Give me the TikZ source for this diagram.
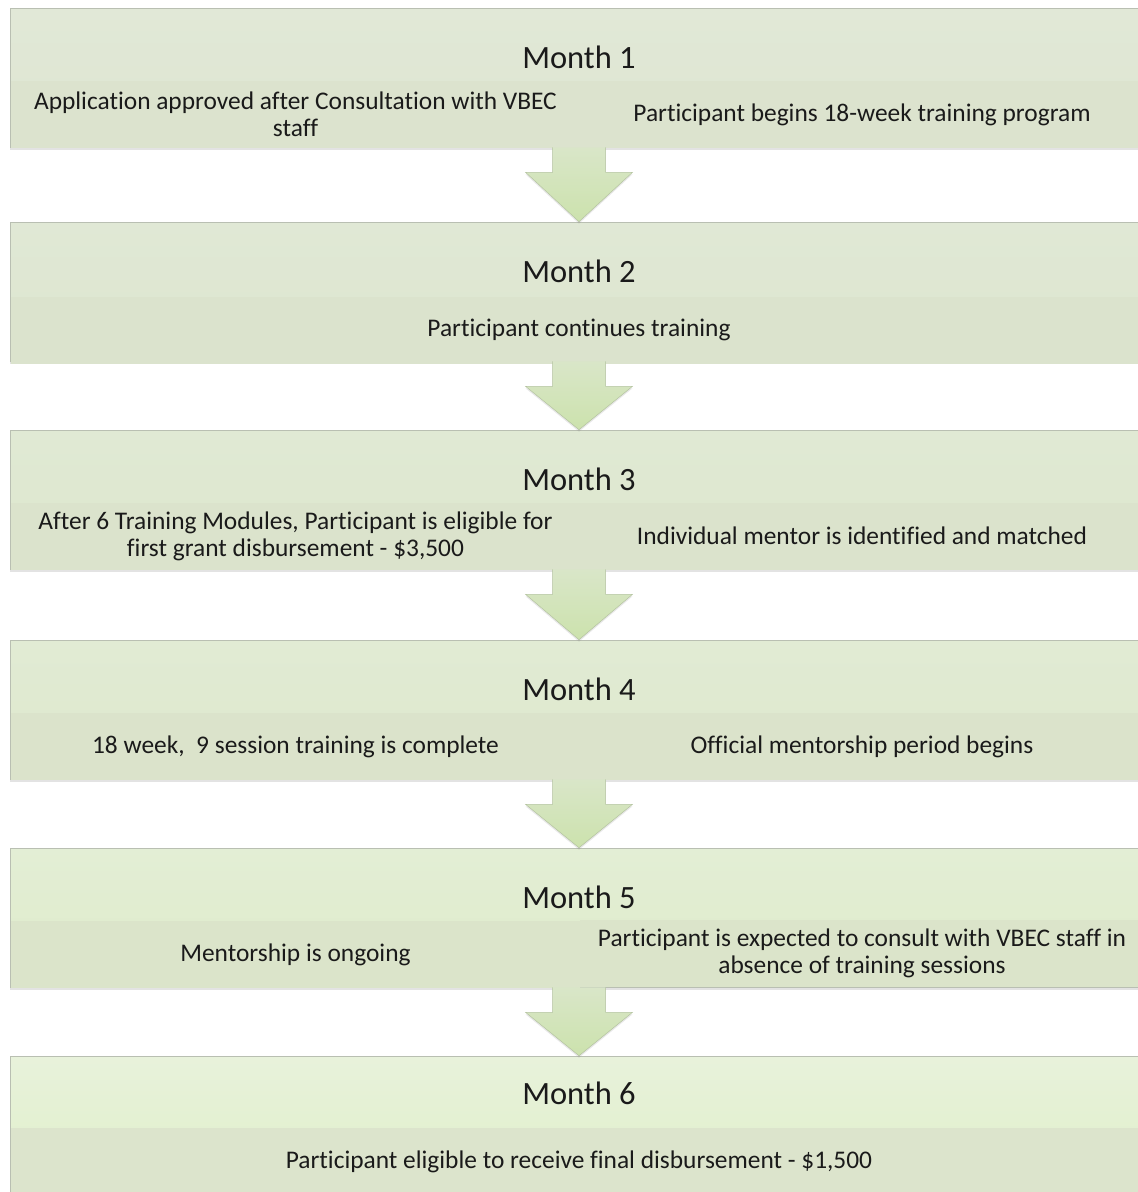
\documentclass[tikz,border=0pt]{standalone}
\usepackage{fontspec}
\setmainfont{Carlito}[Ligatures={NoCommon}]
\usetikzlibrary{calc,shadows}
\definecolor{txt}{HTML}{1A1A1A}
\definecolor{arrtop}{HTML}{D9E6C8}
\definecolor{arrbot}{HTML}{CCE2AD}
\definecolor{arrline}{HTML}{B4C3A0}
\definecolor{boxline}{HTML}{B9BFB2}
\definecolor{ta}{HTML}{E1E8D7}\definecolor{ba}{HTML}{DEE6D1}\definecolor{sa}{HTML}{DCE3CE}
\definecolor{tb}{HTML}{E0E8D5}\definecolor{bb}{HTML}{DDE6CF}\definecolor{sb}{HTML}{DBE3CD}
\definecolor{tc}{HTML}{E0E9D4}\definecolor{bc}{HTML}{DDE7CD}\definecolor{sc}{HTML}{DBE3CC}
\definecolor{td}{HTML}{E1EBD4}\definecolor{bd}{HTML}{DEE8CC}\definecolor{sd}{HTML}{DBE3CB}
\definecolor{te}{HTML}{E3EED5}\definecolor{be}{HTML}{DEEBCA}\definecolor{se}{HTML}{DBE4CA}
\definecolor{tf}{HTML}{E8F2DB}\definecolor{bf}{HTML}{DFEFC9}\definecolor{sf}{HTML}{DCE4CC}
\tikzset{
  mbox/.style={rectangle, minimum width=1138pt, minimum height=139pt, inner sep=0pt,
    draw=boxline, line width=0.6pt,
    drop shadow={shadow xshift=0pt, shadow yshift=-3pt, opacity=0.22}},
  mtitle/.style={font=\fontsize{32.5}{38}\selectfont, text=txt, inner sep=0pt},
  band/.style={rectangle, minimum height=67pt, inner sep=0pt, text=txt,
    font=\fontsize{25.4}{27}\selectfont, align=center},
  half/.style={band, minimum width=569pt},
  halfr/.style={band, minimum width=564pt},
  full/.style={band, minimum width=1137pt},
  arr/.style={top color=arrtop, bottom color=arrbot, draw=arrline, line width=0.5pt,
    drop shadow={shadow xshift=0pt, shadow yshift=-2pt, opacity=0.18}}
}
\newcommand\blockarrow[2]{%
  \path[arr] ($(#1.south)+(-26.5,0)$) -- ($(#1.south)+(-26.5,25)$) -- ($(#1.south)+(-53.5,25)$)
    -- (#2.north) -- ($(#1.south)+(53.5,25)$) -- ($(#1.south)+(26.5,25)$) -- ($(#1.south)+(26.5,0)$);}
\begin{document}
\begin{tikzpicture}[x=1pt,y=-1pt]
\clip (0,0) rectangle (1138,1192);
\fill[white] (0,0) rectangle (1138,1192);

% Month 1
\node[mbox, top color=ta, bottom color=ba] (m1) at (579,77.5) {};
\node[half, fill=sa] (a1) at (295.5,114.5) {Application approved after Consultation with VBEC\\staff};
\node[halfr, fill=sa] (b1) at (862,114.5) {Participant begins 18-week training program};
\node[mtitle] (t1) at (579,57) {Month 1};

% Month 2
\node[mbox, top color=tb, bottom color=bb] (m2) at (579,291.5) {};
\node[full, fill=sb] (a2) at (579,330) {Participant continues training};
\node[mtitle] (t2) at (579,271) {Month 2};

% Month 3
\node[mbox, top color=tc, bottom color=bc] (m3) at (579,499.5) {};
\node[half, fill=sc] (a3) at (295.5,536) {After 6 Training Modules, Participant is eligible for\\first grant disbursement - \$3,500};
\node[halfr, fill=sc] (b3) at (862,536) {Individual mentor is identified and matched};
\node[mtitle] (t3) at (579,479) {Month 3};

% Month 4
\node[mbox, top color=td, bottom color=bd] (m4) at (579,709.5) {};
\node[half, fill=sd] (a4) at (295.5,746.5) {18 week,~~9 session training is complete};
\node[halfr, fill=sd] (b4) at (862,746.5) {Official mentorship period begins};
\node[mtitle] (t4) at (579,689) {Month 4};

% Month 5
\node[mbox, top color=te, bottom color=be] (m5) at (579,917.5) {};
\node[half, fill=se] (a5) at (295.5,954.5) {Mentorship is ongoing};
\node[halfr, fill=se] (b5) at (862,953.5) {Participant is expected to consult with VBEC staff in\\absence of training sessions};
\node[mtitle] (t5) at (579,897) {Month 5};

% Month 6
\node[mbox, top color=tf, bottom color=bf] (m6) at (579,1125.5) {};
\node[full, fill=sf] (a6) at (579,1161.5) {Participant eligible to receive final disbursement - \$1,500};
\node[mtitle] (t6) at (579,1093) {Month 6};

\blockarrow{m1}{m2}
\blockarrow{m2}{m3}
\blockarrow{m3}{m4}
\blockarrow{m4}{m5}
\blockarrow{m5}{m6}
\end{tikzpicture}
\end{document}
